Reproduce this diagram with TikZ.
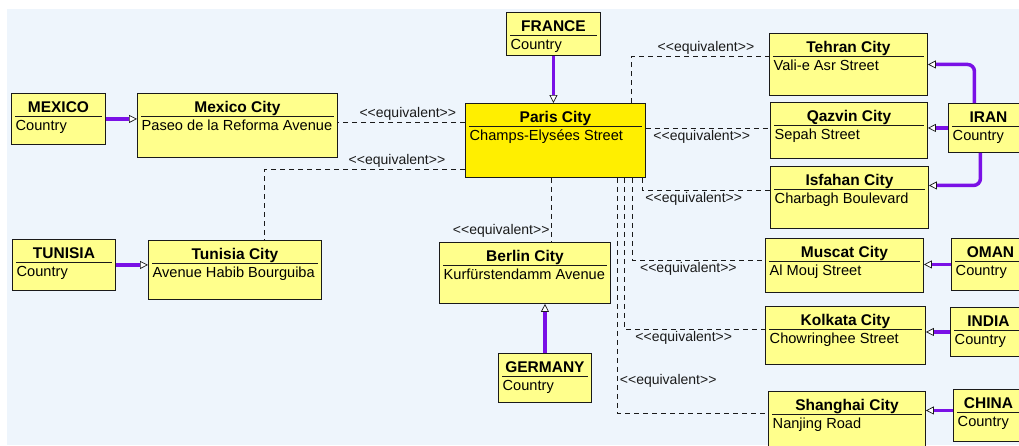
\documentclass[tikz,border=0pt]{standalone}
\usepackage{fontspec}
\setmainfont{Liberation Sans}
\usetikzlibrary{arrows.meta,calc}
\definecolor{umlsky}{HTML}{EEF5FC}
\definecolor{umlpale}{HTML}{FFFF8C}
\definecolor{umlgold}{HTML}{FFEF00}
\definecolor{umlink}{HTML}{1A1A1A}
\definecolor{umlviolet}{HTML}{7A10E6}

\newcommand{\equivtext}{<\kern0pt<equivalent>\kern0pt>}
\newcommand{\umlclass}[7]{%
  \node[#2, anchor=north west, minimum width=#4, minimum height=#5] (#1) at #3 {};
  \node[ctitle] at ([yshift=-19]#1.north) {#6};
  \draw[sepline] ([xshift=4,yshift=-23.5]#1.north west) -- ([xshift=-4,yshift=-23.5]#1.north east);
  \node[cbody] at ([xshift=4.5,yshift=-37]#1.north west) {#7};
}

\begin{document}
\begin{tikzpicture}[
  x=1pt, y=-1pt,
  cls/.style={draw=umlink, fill=umlpale, line width=0.9pt, inner sep=0pt},
  hub/.style={cls, fill=umlgold},
  ctitle/.style={font=\fontsize{15.5}{17}\selectfont\bfseries, inner sep=0pt, anchor=base},
  cbody/.style={font=\fontsize{14.6}{16}\selectfont, inner sep=0pt, anchor=base west},
  sepline/.style={draw=umlink, line width=0.9pt},
  equiv/.style={draw=umlink, line width=1pt, dash pattern=on 5pt off 4pt},
  own/.style={draw=umlviolet, line width=3.5pt, rounded corners=7pt,
    -{Triangle[length=8pt, width=8pt, color=umlink, fill=white, line width=0.7pt]}},
  lbl/.style={font=\fontsize{14}{16}\selectfont, text=umlink, inner sep=1.5pt}
]
\useasboundingbox (0,0) rectangle (1019,445);
\clip (0,0) rectangle (1019,445);
\fill[umlsky] (7,9) rectangle (1019,445);

\umlclass{mexico}{cls}{(11,93)}{94}{51}{MEXICO}{Country}
\umlclass{mexicocity}{cls}{(137,93)}{200}{64}{Mexico City}{Paseo de la Reforma Avenue}
\umlclass{france}{cls}{(506,12)}{94}{43}{FRANCE}{Country}
\umlclass{paris}{hub}{(465,103)}{180}{74}{Paris City}{Champs-Elysées Street}
\umlclass{tehran}{cls}{(769,33)}{158}{62}{Tehran City}{Vali-e Asr Street}
\umlclass{qazvin}{cls}{(770,102)}{157}{56}{Qazvin City}{Sepah Street}
\umlclass{isfahan}{cls}{(770,166)}{158}{62}{Isfahan City}{Charbagh Boulevard}
\umlclass{iran}{cls}{(948,103)}{80}{49}{IRAN}{Country}
\umlclass{tunisia}{cls}{(12,239)}{103}{51}{TUNISIA}{Country}
\umlclass{tunisiacity}{cls}{(148,240)}{173}{59}{Tunisia City}{Avenue Habib Bourguiba}
\umlclass{berlin}{cls}{(439,242)}{171}{61}{Berlin City}{Kurfürstendamm Avenue}
\umlclass{germany}{cls}{(498,353)}{93}{49}{GERMANY}{Country}
\umlclass{muscat}{cls}{(765,238)}{158}{54}{Muscat City}{Al Mouj Street}
\umlclass{oman}{cls}{(951,238)}{78}{52}{OMAN}{Country}
\umlclass{kolkata}{cls}{(765,306)}{160}{58}{Kolkata City}{Chowringhee Street}
\umlclass{india}{cls}{(950,307)}{76}{49}{INDIA}{Country}
\umlclass{shanghai}{cls}{(768,391)}{157}{64}{Shanghai City}{Nanjing Road}
\umlclass{china}{cls}{(953,389)}{70}{52}{CHINA}{Country}

\draw[equiv] ([yshift=18]paris.west) -- node[lbl, above, pos=0.45]{\equivtext} ([yshift=18]paris.west -| mexicocity.east);
\draw[equiv] ([yshift=-29]paris.west) -| node[lbl, above, pos=0.17]{\equivtext} ([xshift=30]tunisiacity.north);
\draw[equiv] ([xshift=-4]paris.south) -- node[lbl, left, pos=0.82]{\equivtext} ([xshift=-4]paris.south |- berlin.north);
\draw[equiv] ([xshift=-14]paris.north east) |- node[lbl, above, pos=0.77]{\equivtext} ([yshift=8]tehran.west);
\draw[equiv] ([yshift=12]paris.east) -- node[lbl, below, pos=0.45]{\equivtext} ([yshift=12]paris.east -| qazvin.west);
\draw[equiv] ([xshift=-3]paris.south east) |- node[lbl, below, pos=0.7]{\equivtext} ([yshift=7]isfahan.west);
\draw[equiv] ([xshift=-13]paris.south east) |- node[lbl, below, pos=0.71]{\equivtext} ([yshift=5]muscat.west);
\draw[equiv] ([xshift=-21]paris.south east) |- node[lbl, below, pos=0.71]{\equivtext} ([yshift=6]kolkata.west);
\draw[equiv] ([xshift=-28]paris.south east) |- node[lbl, right, pos=0.43]{\equivtext} ([yshift=10]shanghai.west);

\draw[own] (mexico.east) -- (mexico.east -| mexicocity.west);
\draw[own] (tunisia.east) -- (tunisia.east -| tunisiacity.west);
\draw[own] (france.south) -- (france.south |- paris.north);
\draw[own] (germany.north) -- (germany.north |- berlin.south);
\draw[own] ([xshift=-14]iran.north) |- (tehran.east);
\draw[own] (iran.west) -- (iran.west -| qazvin.east);
\draw[own] ([xshift=-8]iran.south) |- ([yshift=12]isfahan.east);
\draw[own] (oman.west) -- (oman.west -| muscat.east);
\draw[own] (india.west) -- (india.west -| kolkata.east);
\draw[own] ([yshift=5]china.west) -- ([yshift=5]china.west -| shanghai.east);
\end{tikzpicture}
\end{document}
